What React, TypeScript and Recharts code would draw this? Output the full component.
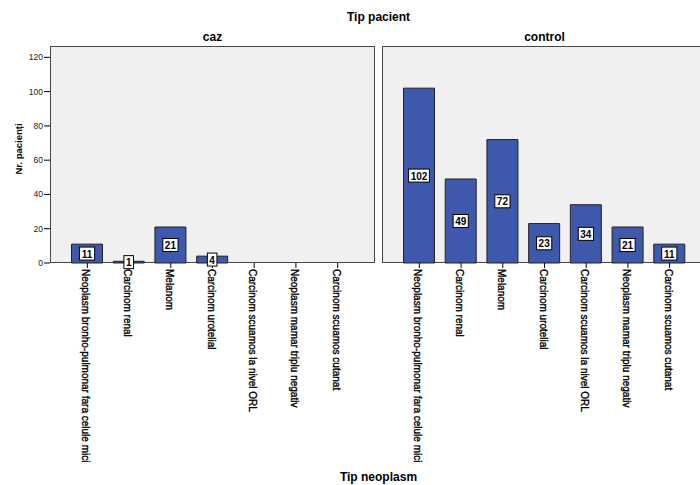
import React from 'react';
import { BarChart, Bar, XAxis, YAxis, LabelList } from 'recharts';

// Tumour types shown on the category axis of both panels
const categories = [
  'Neoplasm bronho-pulmonar fara celule mici',
  'Carcinom renal',
  'Melanom',
  'Carcinom urotelial',
  'Carcinom scuamos la nivel ORL',
  'Neoplasm mamar triplu negativ',
  'Carcinom scuamos cutanat',
];

// Patient counts per panel
const cazValues = [11, 1, 21, 4, 0, 0, 0];
const controlValues = [102, 49, 72, 23, 34, 21, 11];

const yTicks = [0, 20, 40, 60, 80, 100, 120];
const panelTitles = ['caz', 'control'];

const BAR_FILL = '#3e58ac';
const PANEL_BG = '#f0f0f0';
const FRAME = '#474747';
const BASE_FONT = '"Liberation Sans", Arial, sans-serif';

const Y_MAX = 126.6;

const toRows = (values: number[]) =>
  categories.map((name, i) => ({ name, value: values[i] }));

const cazRows = toRows(cazValues);
const controlRows = toRows(controlValues);

// Rotated category label hanging below each tick
const CategoryTick = (props: any) => {
  const { x, y, payload } = props;
  return (
    <text
      x={x}
      y={y}
      dy={1.5}
      transform={`rotate(90, ${x}, ${y})`}
      textAnchor="start"
      dominantBaseline="central"
      fontFamily={BASE_FONT}
      fontSize={10}
      fill="#000"
      stroke="#000"
      strokeWidth={0.35}
    >
      {payload.value}
    </text>
  );
};

// White boxed count placed at the vertical middle of each bar
const ValueBadge = (props: any) => {
  const { x, y, width, height, value } = props;
  if (!value) return null;
  const cx = Number(x) + Number(width) / 2;
  const cy = Number(y) + Number(height) / 2;
  const w = String(value).length * 5.6 + 4;
  const h = 13;
  return (
    <g>
      <rect x={cx - w / 2} y={cy - h / 2} width={w} height={h} fill="#fff" stroke="#000" strokeWidth={1} />
      <text
        x={cx}
        y={cy}
        dy={0.5}
        textAnchor="middle"
        dominantBaseline="central"
        fontFamily={BASE_FONT}
        fontWeight="bold"
        fontSize={10}
        fill="#000"
      >
        {value}
      </text>
    </g>
  );
};

const Panel = ({ rows, showY }: { rows: any[]; showY: boolean }) => (
  <BarChart
    width={showY ? 380 : 330}
    height={485}
    data={rows}
    margin={{ top: 46, right: 5, bottom: 22, left: 0 }}
    style={{ background: 'transparent' }}
  >
    <XAxis
      dataKey="name"
      interval={0}
      height={200}
      padding={{ left: 16.5, right: 16.5 }}
      axisLine={false}
      tickLine={{ stroke: '#000' }}
      tickSize={5}
      tickMargin={1}
      tick={<CategoryTick />}
    />
    <YAxis
      hide={!showY}
      width={50}
      domain={[0, Y_MAX]}
      ticks={yTicks}
      axisLine={false}
      tickLine={{ stroke: '#000' }}
      tickSize={6}
      tickMargin={1}
      tick={{ fontSize: 8.5, fontFamily: BASE_FONT, fill: '#222' }}
    />
    <Bar dataKey="value" fill={BAR_FILL} stroke="#222" strokeWidth={1} barSize={31} isAnimationActive={false}>
      <LabelList dataKey="value" content={<ValueBadge />} />
    </Bar>
  </BarChart>
);

const frameStyle = (left: number): React.CSSProperties => ({
  position: 'absolute',
  left,
  top: 46,
  width: 325,
  height: 217,
  boxSizing: 'border-box',
  border: `1px solid ${FRAME}`,
  background: PANEL_BG,
});

export default function App() {
  return (
    <div
      style={{
        position: 'absolute',
        left: 0,
        top: 0,
        width: 700,
        height: 485,
        overflow: 'hidden',
        background: '#fff',
        fontFamily: BASE_FONT,
      }}
    >
      <div style={frameStyle(50)} />
      <div style={frameStyle(382)} />
      <div style={{ position: 'absolute', left: 0, top: 0 }}>
        <Panel rows={cazRows} showY={true} />
      </div>
      <div style={{ position: 'absolute', left: 382, top: 0 }}>
        <Panel rows={controlRows} showY={false} />
      </div>
      <svg
        width={700}
        height={485}
        style={{ position: 'absolute', left: 0, top: 0, pointerEvents: 'none' }}
      >
        <text x={378.5} y={21} textAnchor="middle" fontFamily={BASE_FONT} fontWeight="bold" fontSize={12} fill="#000">
          Tip pacient
        </text>
        <text x={212.5} y={41} textAnchor="middle" fontFamily={BASE_FONT} fontWeight="bold" fontSize={12} fill="#000">
          {panelTitles[0]}
        </text>
        <text x={544.5} y={41} textAnchor="middle" fontFamily={BASE_FONT} fontWeight="bold" fontSize={12} fill="#000">
          {panelTitles[1]}
        </text>
        <text x={378.5} y={481} textAnchor="middle" fontFamily={BASE_FONT} fontWeight="bold" fontSize={12} fill="#000">
          Tip neoplasm
        </text>
        <text
          x={18}
          y={149}
          transform="rotate(-90, 18, 149)"
          textAnchor="middle"
          dominantBaseline="central"
          fontFamily={BASE_FONT}
          fontWeight="bold"
          fontSize={9.5}
          fill="#000"
        >
          Nr. pacienți
        </text>
      </svg>
    </div>
  );
}
